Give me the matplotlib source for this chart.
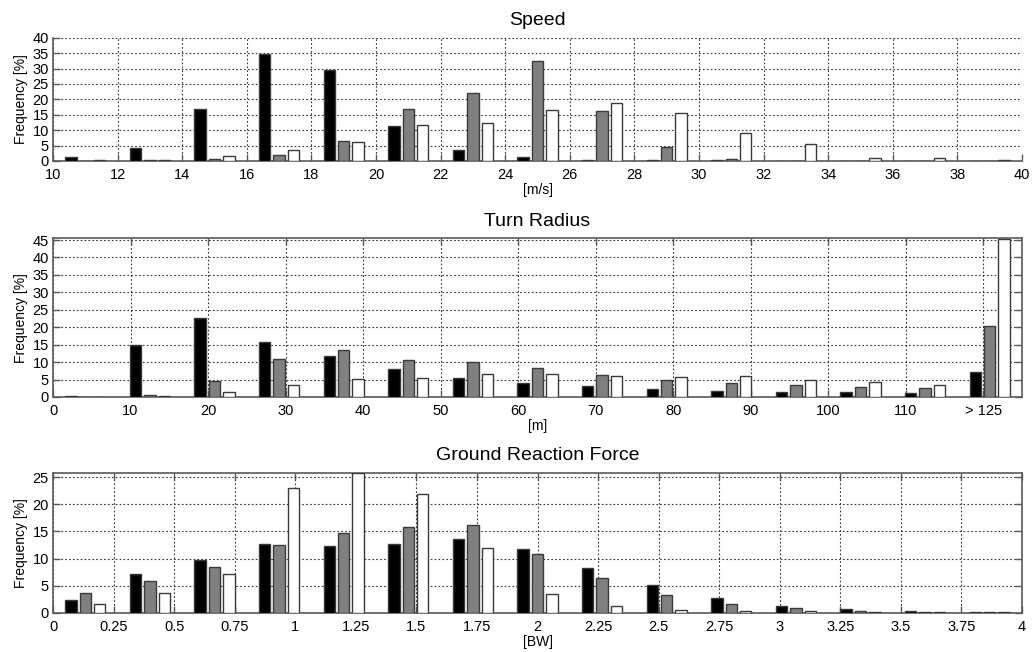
import numpy as np
import matplotlib
matplotlib.use("Agg")
import matplotlib.pyplot as plt

plt.rcParams['font.family'] = ['Liberation Sans', 'DejaVu Sans']

# ---- Speed [m/s]: 15 bins between 10 and 40 ----
speed_range = (10, 40)
speed_black = [1.2, 4.1, 16.9, 34.6, 29.4, 11.4, 3.6, 1.2, 0.2, 0.2, 0.2, 0.0, 0.0, 0.0, 0.0]
speed_gray = [0.0, 0.3, 0.6, 1.8, 6.6, 16.9, 22.1, 32.3, 16.1, 4.6, 0.6, 0.0, 0.0, 0.0, 0.0]
speed_white = [0.3, 0.3, 1.5, 3.5, 6.2, 11.8, 12.2, 16.6, 18.8, 15.7, 9.1, 5.5, 0.9, 0.9, 0.3]
speed_xticks = [10, 12, 14, 16, 18, 20, 22, 24, 26, 28, 30, 32, 34, 36, 38, 40]
speed_xticklabels = [str(v) for v in speed_xticks]
speed_yticks = [0, 5, 10, 15, 20, 25, 30, 35, 40]

# ---- Turn radius [m]: 15 bins between 0 and 125 ----
turn_range = (0, 125)
turn_black = [0.4, 14.9, 22.7, 15.9, 11.7, 8.1, 5.5, 4.1, 3.2, 2.4, 1.7, 1.3, 1.3, 1.1, 7.3]
turn_gray = [0.0, 0.7, 4.5, 10.9, 13.4, 10.5, 9.9, 8.3, 6.2, 5.0, 4.0, 3.4, 2.8, 2.6, 20.4]
turn_white = [0.0, 0.3, 1.5, 3.4, 5.2, 5.5, 6.5, 6.7, 6.0, 5.7, 6.0, 4.8, 4.3, 3.4, 45.2]
turn_xticks = [0, 10, 20, 30, 40, 50, 60, 70, 80, 90, 100, 110, 120]
turn_xticklabels = ['0', '10', '20', '30', '40', '50', '60', '70', '80', '90',
                    '100', '110', '> 125']
turn_yticks = [0, 5, 10, 15, 20, 25, 30, 35, 40, 45]

# ---- Ground reaction force [BW]: 15 bins between 0 and 4 ----
grf_range = (0, 4)
grf_black = [2.4, 7.2, 9.8, 12.7, 12.3, 12.6, 13.6, 11.7, 8.3, 5.1, 2.8, 1.2, 0.7, 0.35, 0.15]
grf_gray = [3.7, 5.9, 8.4, 12.5, 14.8, 15.9, 16.1, 10.8, 6.4, 3.4, 1.6, 0.85, 0.35, 0.15, 0.15]
grf_white = [1.7, 3.6, 7.2, 23.0, 25.7, 21.8, 12.0, 3.5, 1.2, 0.5, 0.3, 0.3, 0.2, 0.15, 0.15]
grf_xticks = [0, 0.25, 0.5, 0.75, 1, 1.25, 1.5, 1.75, 2, 2.25, 2.5, 2.75, 3, 3.25, 3.5, 3.75, 4]
grf_xticklabels = ['0', '0.25', '0.5', '0.75', '1', '1.25', '1.5', '1.75', '2',
                   '2.25', '2.5', '2.75', '3', '3.25', '3.5', '3.75', '4']
grf_yticks = [0, 5, 10, 15, 20, 25]

fills = ['#000000', '#808080', '#ffffff']
edge = '#3a3a3a'
spine_col = '#5a5a5a'

fig = plt.figure(figsize=(10.34, 6.52), dpi=100)

W, H = 1034.0, 652.0


def axes_px(left, top, right, bottom):
    return fig.add_axes([left / W, 1 - bottom / H, (right - left) / W, (bottom - top) / H])


def grouped(ax, xr, series, title, xlabel, xticks, xlabels, yticks, ylim, box):
    n = len(series[0])
    step = (xr[1] - xr[0]) / n
    centers = xr[0] + step * (np.arange(n) + 0.5)
    # MATLAB-style grouped layout: 3 bars occupying 2/3 of each bin
    gap = step * (2.0 / 3.0) / 3.0
    width = gap * 0.8
    for k, (vals, col) in enumerate(zip(series, fills)):
        ax.bar(centers + (k - 1) * gap, vals, width=width, color=col,
               edgecolor=edge, linewidth=1.0, zorder=3)
    ax.set_xlim(*xr)
    ax.set_ylim(*ylim)
    ax.set_xticks(xticks)
    ax.set_xticklabels(xlabels)
    ax.set_yticks(yticks)
    ax.grid(True, linestyle=(0, (1.5, 2.0)), color='#333333', linewidth=0.8, zorder=0)
    ax.set_axisbelow(True)
    ax.tick_params(direction='in', length=5, width=1.0, color=spine_col,
                   labelsize=10.5, pad=3, top=box, right=box)
    ax.tick_params(axis='x', pad=5)
    for side in ['left', 'bottom']:
        ax.spines[side].set_color(spine_col)
        ax.spines[side].set_linewidth(1.2)
    for side in ['top', 'right']:
        ax.spines[side].set_visible(box)
        ax.spines[side].set_color(spine_col)
        ax.spines[side].set_linewidth(1.2)
    ax.set_title(title, fontsize=14, pad=9)
    ax.set_xlabel(xlabel, fontsize=10, labelpad=1)
    ax.set_ylabel('Frequency [%]', fontsize=10, labelpad=3)


ax1 = axes_px(53, 37.7, 1022, 161)
grouped(ax1, speed_range, [speed_black, speed_gray, speed_white], 'Speed', '[m/s]',
        speed_xticks, speed_xticklabels, speed_yticks, (0, 40), False)

ax2 = axes_px(53, 238.3, 1022, 397)
grouped(ax2, turn_range, [turn_black, turn_gray, turn_white], 'Turn Radius', '[m]',
        turn_xticks, turn_xticklabels, turn_yticks, (0, 45.5), True)

ax3 = axes_px(53, 472.7, 1022, 613)
grouped(ax3, grf_range, [grf_black, grf_gray, grf_white], 'Ground Reaction Force', '[BW]',
        grf_xticks, grf_xticklabels, grf_yticks, (0, 25.8), True)

fig.savefig('out.png', dpi=100)
